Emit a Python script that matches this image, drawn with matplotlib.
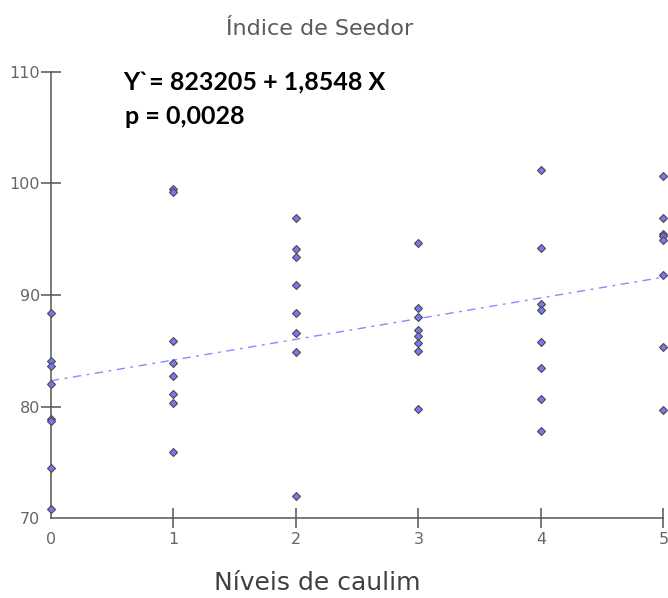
import numpy as np
import matplotlib
matplotlib.use("Agg")
import matplotlib.pyplot as plt

# niveis de caulim e valores
levels = [0, 1, 2, 3, 4, 5]
vals_0 = [88.4, 84.1, 83.6, 82.0, 78.9, 78.7, 74.5, 70.8]
vals_1 = [99.5, 99.2, 85.9, 83.9, 82.7, 81.1, 80.3, 75.9]
vals_2 = [96.9, 94.1, 93.4, 90.9, 88.4, 86.6, 84.9, 72.0]
vals_3 = [94.7, 88.8, 88.0, 86.9, 86.3, 85.7, 85.0, 79.8]
vals_4 = [101.2, 94.2, 89.2, 88.7, 85.8, 83.5, 80.7, 77.8]
vals_5 = [100.7, 96.9, 95.5, 95.3, 94.9, 91.8, 85.3, 79.7]
groups = [vals_0, vals_1, vals_2, vals_3, vals_4, vals_5]

intercept = 82.3205
slope = 1.8548

y_ticks = [70, 80, 90, 100, 110]
x_ticks = [0, 1, 2, 3, 4, 5]

fig = plt.figure(figsize=(6.68, 5.98), dpi=100)
ax = fig.add_axes([0.0763, 0.1333, 0.9167, 0.7468])

xs = []
ys = []
for lv, g in zip(levels, groups):
    xs.extend([lv] * len(g))
    ys.extend(g)

ax.plot(xs, ys, linestyle="none", marker="D", markersize=4.2,
        markerfacecolor="#7878f2", markeredgecolor="#4a4a4a",
        markeredgewidth=0.8, clip_on=False, zorder=3)

lx = np.array([0, 5])
ax.plot(lx, intercept + slope * lx, color="#8a8aff", linewidth=1.0,
        dashes=(6, 4, 2, 4), zorder=2)

ax.set_xlim(0, 5)
ax.set_ylim(70, 110)
ax.set_xticks(x_ticks)
ax.set_yticks(y_ticks)

for s in ["top", "right"]:
    ax.spines[s].set_visible(False)
for s in ["left", "bottom"]:
    ax.spines[s].set_color("#555555")
    ax.spines[s].set_linewidth(1.1)

ax.tick_params(direction="inout", length=14, width=1.1, color="#555555",
               labelsize=11.5, labelcolor="#666666")
ax.tick_params(axis="x", pad=3)
ax.tick_params(axis="y", pad=1)
ax.xaxis.get_major_ticks()[0].tick1line.set_visible(False)
ax.yaxis.get_major_ticks()[0].tick1line.set_visible(False)

fig.text(0.479, 0.951, "Índice de Seedor", ha="center", va="center",
         fontsize=16, color="#5a5a5a", family="DejaVu Sans")
fig.text(0.475, 0.025, "Níveis de caulim", ha="center", va="center",
         fontsize=18, color="#404040", family="DejaVu Sans")

fig.text(0.184, 0.862, "Y`= 823205 + 1,8548 X", ha="left", va="center",
         fontsize=18, fontweight="bold", color="black", family=["Lato", "DejaVu Sans"])
fig.text(0.187, 0.805, "p = 0,0028", ha="left", va="center",
         fontsize=18, fontweight="bold", color="black", family=["Lato", "DejaVu Sans"])

fig.savefig("out.png", dpi=100)
